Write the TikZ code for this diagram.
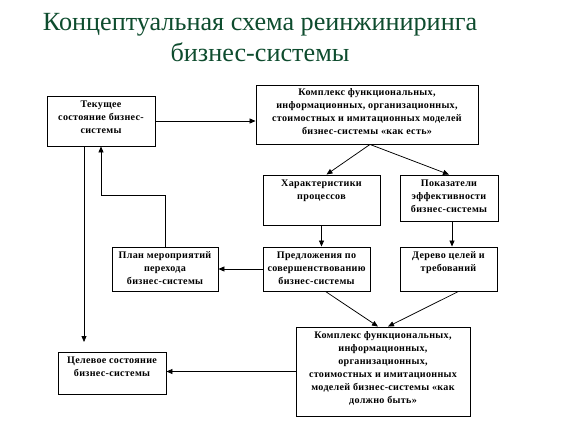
\documentclass[tikz,border=0pt]{standalone}
\usepackage{fontspec}
\setmainfont{Liberation Serif}
\newfontfamily\boxfont[LetterSpace=3]{Liberation Serif}
\usetikzlibrary{arrows.meta}
\definecolor{titlegreen}{RGB}{14,76,46}
\tikzset{
  box/.style={draw=black, line width=0.9pt, inner sep=0pt, rectangle},
  txt/.style={anchor=north, align=center, inner sep=0pt,
    font=\boxfont\bfseries\fontsize{10.1}{13}\selectfont},
  conn/.style={draw=black, line width=0.75pt},
  arr/.style={conn, -{Triangle[length=6pt,width=5pt]}},
  ttl/.style={text=titlegreen, inner sep=0pt, font=\fontsize{26.2}{33}\selectfont},
}
\begin{document}
\begin{tikzpicture}[x=1pt,y=-1pt]
\useasboundingbox (0,0) rectangle (569,427);
\node[ttl, anchor=base] (title1) at (260,31) {Концептуальная схема реинжиниринга};
\node[ttl, anchor=base] (title2) at (260,62) {бизнес-системы};

\node[box, minimum width=108, minimum height=50] (A) at (101,121) {};
\node[box, minimum width=222, minimum height=59] (B) at (367,114.5) {};
\node[box, minimum width=117, minimum height=50] (C) at (321.5,200) {};
\node[box, minimum width=98, minimum height=46] (D) at (449,198) {};
\node[box, minimum width=106, minimum height=44] (E) at (165,269) {};
\node[box, minimum width=107, minimum height=44] (F) at (316.5,269) {};
\node[box, minimum width=97, minimum height=44] (G) at (448.5,269) {};
\node[box, minimum width=108, minimum height=42] (H) at (112,373) {};
\node[box, minimum width=174, minimum height=89] (I) at (383,371.5) {};

\node[txt] (At) at ([yshift=-5]A.north) {Текущее\\состояние бизнес-\\системы};
\node[txt] (Bt) at ([yshift=-4]B.north) {Комплекс функциональных,\\информационных, организационных,\\стоимостных и имитационных моделей\\бизнес-системы «как есть»};
\node[txt] (Ct) at ([yshift=-5]C.north) {Характеристики\\процессов};
\node[txt] (Dt) at ([yshift=-5]D.north) {Показатели\\эффективности\\бизнес-системы};
\node[txt] (Et) at ([yshift=-5]E.north) {План мероприятий\\перехода\\бизнес-системы};
\node[txt] (Ft) at ([yshift=-5]F.north) {Предложения по\\совершенствованию\\бизнес-системы};
\node[txt] (Gt) at ([yshift=-5]G.north) {Дерево целей и\\требований};
\node[txt] (Ht) at ([yshift=-5]H.north) {Целевое состояние\\бизнес-системы};
\node[txt] (It) at ([yshift=-5]I.north) {Комплекс функциональных,\\информационных,\\организационных,\\стоимостных и имитационных\\моделей бизнес-системы «как\\должно быть»};

% connectors
\draw[arr] (A.east) -- (B.west |- A.east);
\coordinate (Bs) at ([xshift=3]B.south);
\draw[arr] (Bs) -- ([xshift=5]C.north);
\draw[arr] (Bs) -- (D.north);
\draw[arr] (C.south) -- (C.south |- F.north);
\draw[arr] ([xshift=3]D.south) -- ([xshift=3]D.south |- G.north);
\draw[arr] (F.west) -- (E.east);
\draw[arr] ([xshift=9]F.south) -- ([xshift=-5]I.north);
\draw[arr] ([xshift=10]G.south) -- ([xshift=5]I.north);
\coordinate (Eup) at (E.north |- 0,195);
\draw[arr] (E.north) -- (Eup) -- (A.south |- Eup) -- (A.south);
\coordinate (Hin) at ([xshift=-17]A.south |- 0,342);
\draw[arr] ([xshift=-17]A.south) -- (Hin);
\draw[arr] (I.west) -- (H.east |- I.west);
\end{tikzpicture}
\end{document}
